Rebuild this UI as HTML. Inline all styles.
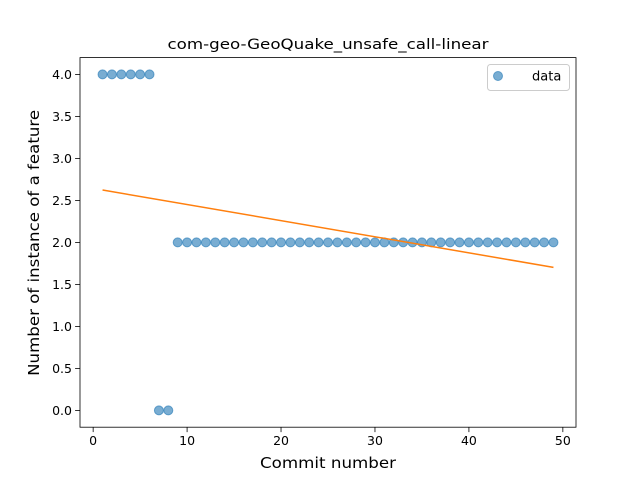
<!DOCTYPE html>
<html><head><meta charset="utf-8"><style>body{margin:0;background:#fff}svg{display:block;font-family:"DejaVu Sans","Liberation Sans",sans-serif}</style></head>
<body>
<svg id="c" width="640" height="480"></svg>
<script>
const xs = [];
for (let i = 1; i <= 49; i++) xs.push(i);
const ys = [4,4,4,4,4,4,0,0,2,2,2,2,2,2,2,2,2,2,2,2,2,2,2,2,2,2,2,2,2,2,2,2,2,2,2,2,2,2,2,2,2,2,2,2,2,2,2,2,2];
const xTicks = [0,10,20,30,40,50];
const yTicks = [0.0,0.5,1.0,1.5,2.0,2.5,3.0,3.5,4.0];
const L=80,R=576,T=57.6,B=427.2;
const x0=-1.4,x1=51.4,y0=-0.2,y1=4.2;
const sx=v=>L+(v-x0)/(x1-x0)*(R-L);
const sy=v=>B-(v-y0)/(y1-y0)*(B-T);
const svg=document.getElementById('c');
const NS='http://www.w3.org/2000/svg';
function mk(tag,attrs,parent){const e=document.createElementNS(NS,tag);for(const k in attrs)e.setAttribute(k,attrs[k]);(parent||svg).appendChild(e);return e;}
let t=mk('text',{x:(L+R)/2,y:49,'text-anchor':'middle','font-size':14.4,textLength:321,lengthAdjust:'spacingAndGlyphs'});t.textContent='com-geo-GeoQuake_unsafe_call-linear';


xTicks.forEach(v=>{const X=sx(v);mk('line',{x1:X,x2:X,y1:B,y2:B+4.9,stroke:'#000','stroke-width':0.8});
 const e=mk('text',{x:X,y:B+18,'text-anchor':'middle','font-size':12.5});e.textContent=v;
 
 });
yTicks.forEach(v=>{const Y=sy(v);mk('line',{x1:L-4.9,x2:L,y1:Y,y2:Y,stroke:'#000','stroke-width':0.8});
 const e=mk('text',{x:L-8,y:Y+4.5,'text-anchor':'end','font-size':12.5});e.textContent=v.toFixed(1);
 
 });
t=mk('text',{x:(L+R)/2,y:468,'text-anchor':'middle','font-size':15.5,textLength:136,lengthAdjust:'spacingAndGlyphs'});t.textContent='Commit number';


t=mk('text',{x:0,y:0,'text-anchor':'middle','font-size':15.5,textLength:266,lengthAdjust:'spacingAndGlyphs',transform:`translate(39,${(T+B)/2+0.5}) rotate(-90)`});t.textContent='Number of instance of a feature';


xs.forEach((x,i)=>{const c=mk('circle',{cx:sx(x),cy:sy(ys[i]),r:4.5,fill:'#1f77b4','fill-opacity':0.6,stroke:'#1f77b4','stroke-opacity':0.6});
 
 });
const n=xs.length,mx=xs.reduce((a,b)=>a+b)/n,my=ys.reduce((a,b)=>a+b)/n;
let sxy=0,sxx=0;xs.forEach((x,i)=>{sxy+=(x-mx)*(ys[i]-my);sxx+=(x-mx)**2;});
const m=sxy/sxx,b=my-m*mx;
const fl=mk('line',{x1:sx(xs[0]),y1:sy(m*xs[0]+b),x2:sx(xs[n-1]),y2:sy(m*xs[n-1]+b),stroke:'#ff7f0e','stroke-width':1.5});


const fr=mk('rect',{x:L,y:T,width:R-L,height:B-T,fill:'none',stroke:'#000','stroke-width':0.8});


const g=mk('g',{});


mk('rect',{x:487.5,y:64.5,width:82,height:26,rx:3,fill:'#fff',stroke:'#ccc','stroke-width':1},g);
mk('circle',{cx:498,cy:76,r:4.5,fill:'#1f77b4','fill-opacity':0.6,stroke:'#1f77b4','stroke-opacity':0.6},g);
t=mk('text',{x:532,y:80.5,'font-size':13},g);t.textContent='data';
</script>
</body></html>
